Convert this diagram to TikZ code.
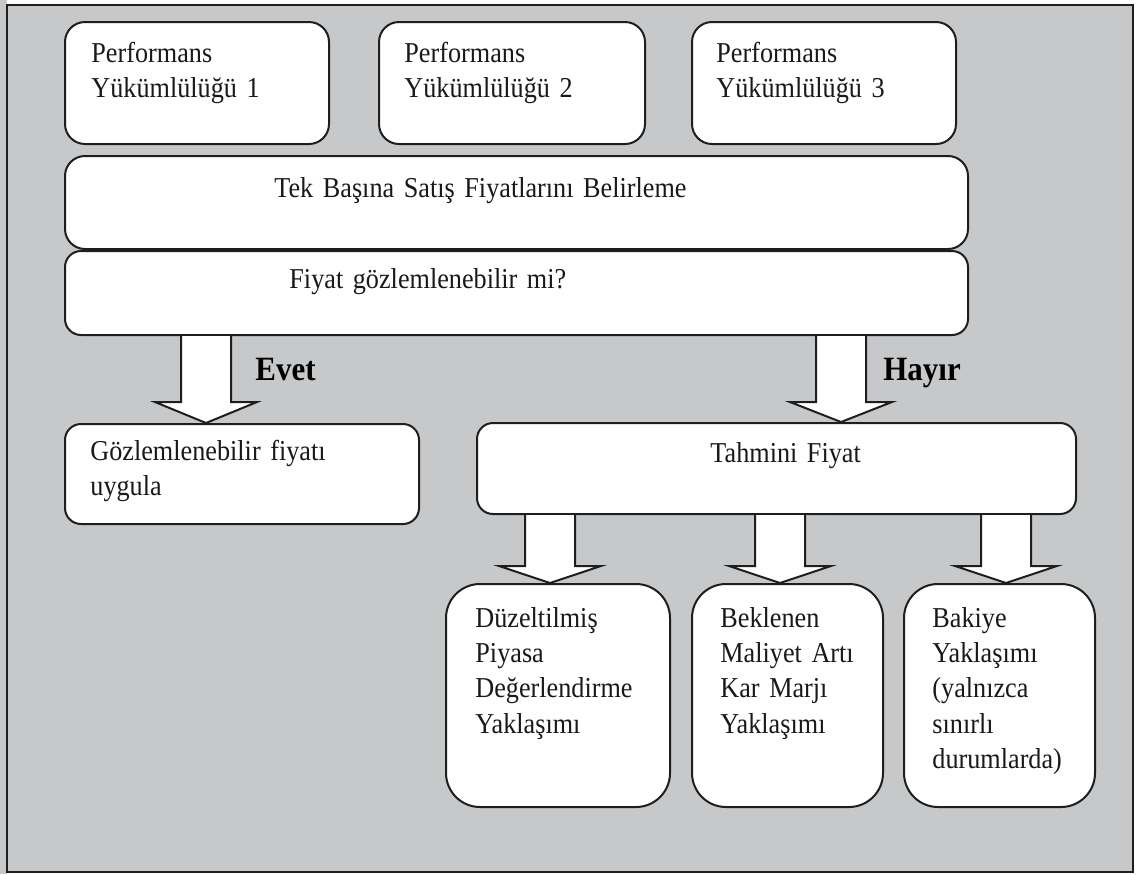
\documentclass[tikz,border=0pt]{standalone}
\usepackage{fontspec}
\setmainfont{Liberation Serif}[FakeStretch=0.91]
\usetikzlibrary{calc}
\definecolor{bggray}{RGB}{199,200,202}
\definecolor{linec}{RGB}{30,30,30}
\tikzset{
  box/.style={draw=linec, fill=white, line width=1pt, rounded corners=10pt, inner sep=0pt},
  bigbox/.style={box, rounded corners=17pt},
  txt/.style={anchor=base west, inner sep=0pt, align=left, text width=#1,
    font=\fontsize{14.4}{17.7}\selectfont, text=black!90},
  txt/.default=120pt,
  yesno/.style={anchor=base west, inner sep=0pt, font=\fontsize{17}{18}\selectfont\bfseries},
  barrow/.style={draw=linec, fill=white, line width=1pt, line join=miter}
}
% #1 source node, #2 target node, #3 x of arrow axis, #4 head height
\newcommand\blockarrow[4]{%
  \coordinate (ba) at (#3,0);
  \draw[barrow] ($(#1.south -| ba)+(-25,0)$) -- ($(#2.north -| ba)+(-25,-#4)$) -- ++(-26,0)
    -- (#2.north -| ba) -- ++(51,-#4) -- ++(-26,0) -- ($(#1.south -| ba)+(25,0)$);
}
\begin{document}
\begin{tikzpicture}[x=0.5pt,y=-0.5pt]
\useasboundingbox (0,0) rectangle (1143,874);
\fill[bggray] (0,0) rectangle (7,874);
\draw[fill=bggray, draw=linec, line width=1pt] (7,5) rectangle (1133,872);

% top boxes
\node[box, anchor=north west, minimum width=132pt, minimum height=61pt] (p1) at (64,21) {};
\node[box, anchor=north west, minimum width=133pt, minimum height=61pt] (p2) at (378,21) {};
\node[box, anchor=north west, minimum width=132pt, minimum height=61pt] (p3) at (691,21) {};
\node[txt] (p1t) at (91,62) {Performans\\Yükümlülüğü 1};
\node[txt] (p2t) at (404,62) {Performans\\Yükümlülüğü 2};
\node[txt] (p3t) at (716,62) {Performans\\Yükümlülüğü 3};

% wide boxes
\node[box, anchor=north west, minimum width=451.5pt, minimum height=46.5pt] (tek) at (64,155) {};
\node[txt=300pt] (tekt) at (274,197) {Tek Başına Satış Fiyatlarını Belirleme};
\node[box, rounded corners=8pt, anchor=north west, minimum width=451.5pt, minimum height=42pt] (q) at (64,250) {};
\node[txt=300pt] (qt) at (289,288) {Fiyat gözlemlenebilir mi?};

% result boxes
\node[box, rounded corners=8pt, anchor=north west, minimum width=177pt, minimum height=50pt] (obs) at (64,423) {};
\node[txt=160pt] (obst) at (90,460) {Gözlemlenebilir fiyatı\\uygula};
\node[box, rounded corners=8pt, anchor=north west, minimum width=299.5pt, minimum height=45.5pt] (est) at (476,422) {};
\node[txt=120pt] (estt) at (710,462) {Tahmini Fiyat};

% arrows Evet / Hayir
\blockarrow{q}{obs}{206}{21}
\blockarrow{q}{est}{841}{20}
\node[yesno] (evet) at (255,380) {Evet};
\node[yesno] (hayir) at (883,380) {Hayır};

% method boxes
\node[bigbox, anchor=north west, minimum width=112pt, minimum height=111.5pt] (b1) at (445,583) {};
\node[bigbox, anchor=north west, minimum width=95.5pt, minimum height=111.5pt] (b2) at (691,583) {};
\node[bigbox, anchor=north west, minimum width=95.5pt, minimum height=111.5pt] (b3) at (903,583) {};
\node[txt=100pt] (b1t) at (475,627) {Düzeltilmiş\\Piyasa\\Değerlendirme\\Yaklaşımı};
\node[txt=100pt] (b2t) at (720,627) {Beklenen\\Maliyet Artı\\Kar Marjı\\Yaklaşımı};
\node[txt=100pt] (b3t) at (932,627) {Bakiye\\Yaklaşımı\\(yalnızca\\sınırlı\\durumlarda)};

\blockarrow{est}{b1}{550}{17}
\blockarrow{est}{b2}{780}{17}
\blockarrow{est}{b3}{1006}{17}
\end{tikzpicture}
\end{document}
